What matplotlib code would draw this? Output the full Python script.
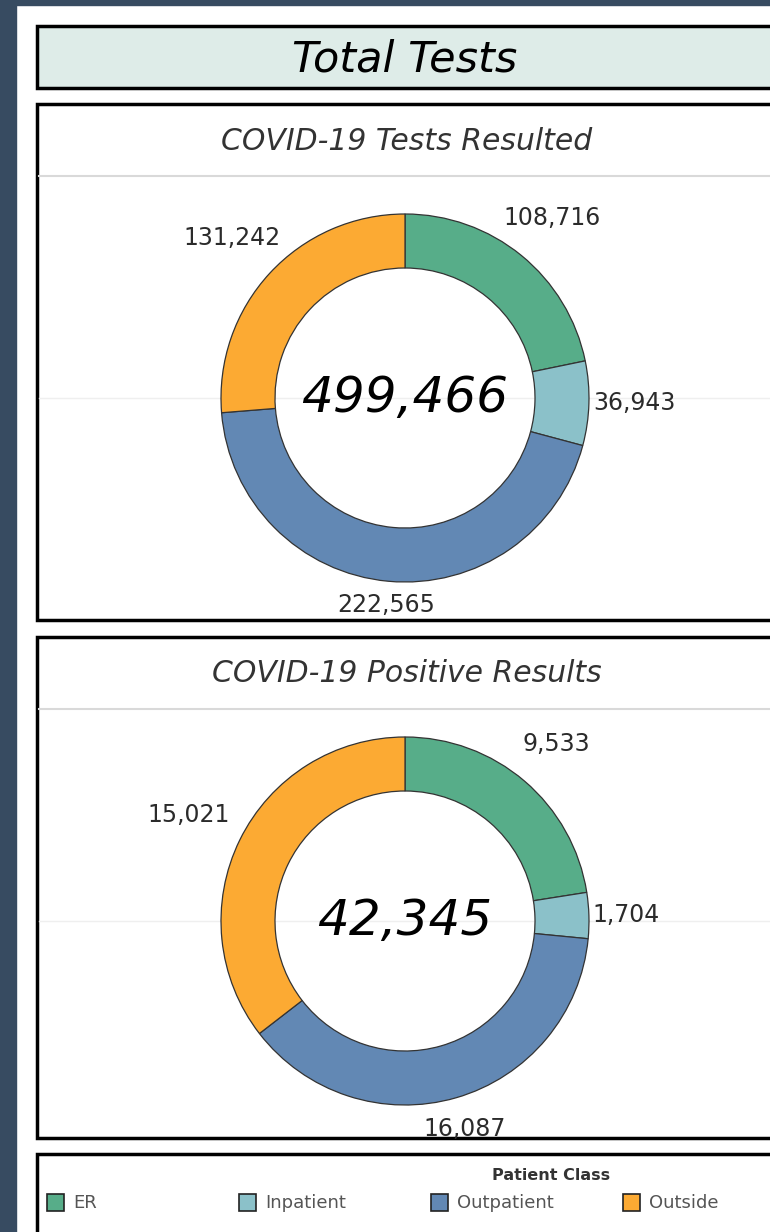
import numpy as np
import matplotlib
matplotlib.use('Agg')
import matplotlib.pyplot as plt
from matplotlib.patches import Rectangle

categories = ['ER', 'Inpatient', 'Outpatient', 'Outside']
colors = ['#57ad89', '#8bc1c9', '#6288b4', '#fcaa33']

tests_resulted = [108716, 36943, 222565, 131242]
positive_results = [9533, 1704, 16087, 15021]

page_title = 'Total Tests'
panel_titles = ['COVID-19 Tests Resulted', 'COVID-19 Positive Results']
legend_title = 'Patient Class'

W, H = 770, 1232
fig = plt.figure(figsize=(W / 100, H / 100), dpi=100)
fig.patch.set_facecolor('white')

# background axis in pixel coordinates
bg = fig.add_axes([0, 0, 1, 1])
bg.set_xlim(0, W)
bg.set_ylim(H, 0)
bg.axis('off')

navy = '#374b61'
bg.add_patch(Rectangle((0, 0), 16, H, color=navy, zorder=0))
bg.add_patch(Rectangle((0, 0), W, 5, color=navy, zorder=0))

# title box
bg.add_patch(Rectangle((37, 26), 760, 62, facecolor='#deece8', edgecolor='black', lw=2.5, zorder=1))
bg.text(405, 59, page_title, fontsize=31, style='italic', ha='center', va='center',
        family='DejaVu Sans', color='black')

panels = [(104, 620, 176, 398), (637, 1138, 709, 921)]
for (top, bot, div, mid), title in zip(panels, panel_titles):
    bg.add_patch(Rectangle((37, top), 760, bot - top, facecolor='white', edgecolor='black', lw=2.5, zorder=1))
    bg.plot([39, W], [div, div], color='#d9d9d9', lw=1.5, zorder=2)
    bg.plot([39, W], [mid, mid], color='#efefef', lw=1, zorder=2)
    bg.text(407, (top + div) / 2 + 1, title, fontsize=21.5, style='italic', ha='center', va='center',
            family='DejaVu Sans', color='#333333', zorder=3)

# legend box
bg.add_patch(Rectangle((37, 1154), 760, 100, facecolor='white', edgecolor='black', lw=2.5, zorder=1))
bg.text(551, 1175, legend_title, fontsize=11.5, fontweight='bold', ha='center', va='center',
        family='DejaVu Sans Condensed', color='#333333')
legend_x = [47, 239, 431, 623]
for lx, cat, col in zip(legend_x, categories, colors):
    bg.add_patch(Rectangle((lx, 1194), 17, 17, facecolor=col, edgecolor='#222222', lw=1.2, zorder=3))
    bg.text(lx + 26, 1203, cat, fontsize=13, ha='left', va='center',
            family='DejaVu Sans Condensed', color='#555555')

R = 184
centers = [(405, 398), (405, 921)]
half = 260
for (cx, cy), vals in zip(centers, [tests_resulted, positive_results]):
    ax = fig.add_axes([(cx - half) / W, 1 - (cy + half) / H, 2 * half / W, 2 * half / H])
    wedges, _ = ax.pie(vals, colors=colors, startangle=90, counterclock=False, radius=1,
                       wedgeprops=dict(width=54 / R, edgecolor='#333333', linewidth=0.9))
    ax.set_xlim(-half / R, half / R)
    ax.set_ylim(-half / R, half / R)
    ax.axis('off')
    for w, v in zip(wedges, vals):
        ang = np.deg2rad((w.theta1 + w.theta2) / 2)
        frac = v / sum(vals)
        c, s = np.cos(ang), np.sin(ang)
        if frac > 0.15:
            # push label out so its box clears the ring
            r_px = R + 10 + abs(c) * 48 + abs(s) * 10
            ha = 'center'
        else:
            r_px = R + 4
            ha = 'left'
        ax.text(r_px / R * c, r_px / R * s, f'{v:,}', fontsize=17, ha=ha, va='center',
                color='#2b2b2b', family='DejaVu Sans', clip_on=False)
    ax.text(0, 0, f'{sum(vals):,}', fontsize=36, style='italic', ha='center', va='center',
            family='DejaVu Sans', color='black')

fig.savefig('out.png', dpi=100)
